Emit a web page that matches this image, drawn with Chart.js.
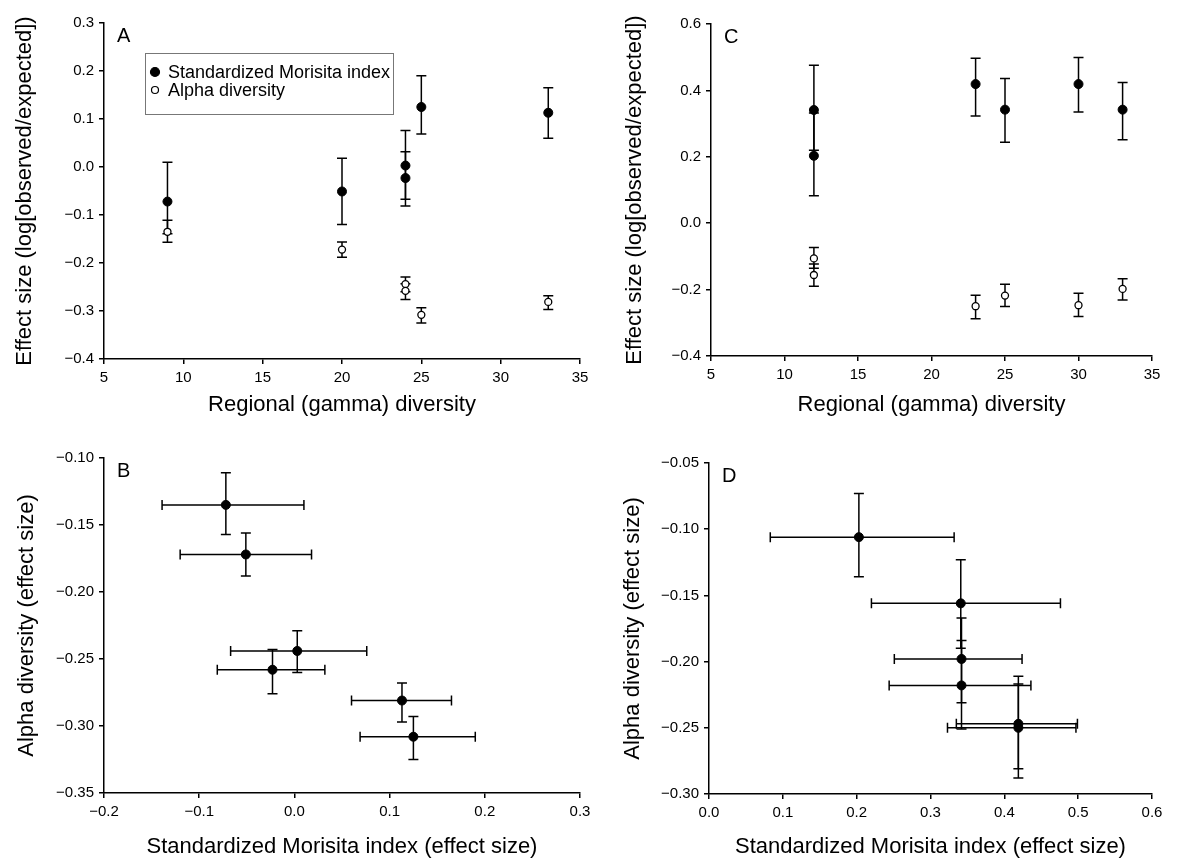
<!DOCTYPE html>
<html>
<head>
<meta charset="utf-8">
<script src="https://cdn.jsdelivr.net/npm/chart.js@4.4.1/dist/chart.umd.min.js"></script>
<style>
  html, body { margin: 0; padding: 0; background: #fff; overflow: hidden; }
  canvas { position: absolute; }
</style>
</head>
<body>
<canvas id="chartA" width="597" height="420" style="left:0;top:0"></canvas>
<canvas id="chartC" width="597" height="420" style="left:597px;top:0"></canvas>
<canvas id="chartB" width="597" height="450" style="left:0;top:420px"></canvas>
<canvas id="chartD" width="597" height="450" style="left:597px;top:420px"></canvas>
<script>
// first data set (panels A and B)
const gammaA = [9, 20, 24, 24, 25, 33];
const morisitaA = [-0.072, -0.051, 0.003, -0.023, 0.125, 0.113];
const morisitaALo = [-0.139, -0.120, -0.067, -0.081, 0.069, 0.060];
const morisitaAHi = [0.010, 0.018, 0.076, 0.032, 0.190, 0.165];
const alphaA = [-0.135, -0.172, -0.244, -0.258, -0.308, -0.281];
const alphaALo = [-0.157, -0.188, -0.260, -0.276, -0.325, -0.297];
const alphaAHi = [-0.111, -0.156, -0.229, -0.243, -0.293, -0.268];

// second data set (panels C and D)
const gammaC = [12, 12, 23, 25, 30, 33];
const morisitaC = [0.203, 0.341, 0.419, 0.342, 0.419, 0.342];
const morisitaCLo = [0.083, 0.220, 0.323, 0.244, 0.335, 0.251];
const morisitaCHi = [0.332, 0.476, 0.497, 0.436, 0.499, 0.424];
const alphaC = [-0.106, -0.156, -0.250, -0.218, -0.247, -0.198];
const alphaCLo = [-0.136, -0.190, -0.288, -0.251, -0.281, -0.231];
const alphaCHi = [-0.073, -0.123, -0.217, -0.184, -0.211, -0.167];

const seriesLabels = ['Standardized Morisita index', 'Alpha diversity'];
const gammaTitle = 'Regional (gamma) diversity';
const effectTitle = 'Effect size (log[observed/expected])';
const morisitaTitle = 'Standardized Morisita index (effect size)';
const alphaTitle = 'Alpha diversity (effect size)';

Chart.defaults.font.family = '"Liberation Sans", Arial, Helvetica, sans-serif';
Chart.defaults.color = '#000';

const fmt = (v, d) => {
  const s = Math.abs(v).toFixed(d);
  return (v < -1e-9 ? '\u2212' : '') + s;
};

// draw error bars under the markers
const errorBars = {
  id: 'errorBars',
  beforeDatasetsDraw(chart) {
    const { ctx, scales: { x, y } } = chart;
    const cap = 5;
    ctx.save();
    ctx.strokeStyle = '#000';
    ctx.lineWidth = 1.5;
    chart.data.datasets.forEach(ds => {
      ds.data.forEach(p => {
        const px = x.getPixelForValue(p.x);
        const py = y.getPixelForValue(p.y);
        ctx.beginPath();
        if (p.yMin != null) {
          const y1 = y.getPixelForValue(p.yMin), y2 = y.getPixelForValue(p.yMax);
          ctx.moveTo(px, y1); ctx.lineTo(px, y2);
          ctx.moveTo(px - cap, y1); ctx.lineTo(px + cap, y1);
          ctx.moveTo(px - cap, y2); ctx.lineTo(px + cap, y2);
        }
        if (p.xMin != null) {
          const x1 = x.getPixelForValue(p.xMin), x2 = x.getPixelForValue(p.xMax);
          ctx.moveTo(x1, py); ctx.lineTo(x2, py);
          ctx.moveTo(x1, py - cap); ctx.lineTo(x1, py + cap);
          ctx.moveTo(x2, py - cap); ctx.lineTo(x2, py + cap);
        }
        ctx.stroke();
      });
    });
    ctx.restore();
  }
};

// panel letter + optional boxed legend inside the plot
const panelExtras = {
  id: 'panelExtras',
  afterDraw(chart, args, opts) {
    const { ctx, chartArea } = chart;
    ctx.save();
    ctx.fillStyle = '#000';
    ctx.font = '20px "Liberation Sans", Arial, sans-serif';
    ctx.textBaseline = 'middle';
    ctx.fillText(opts.letter, chartArea.left + 13, chartArea.top + 13);
    if (opts.legend) {
      const bx = chartArea.left + 41, by = chartArea.top + 30, bw = 248, bh = 61;
      ctx.strokeStyle = '#777';
      ctx.lineWidth = 1;
      ctx.strokeRect(bx + 0.5, by + 0.5, bw, bh);
      ctx.font = '18px "Liberation Sans", Arial, sans-serif';
      chart.data.datasets.forEach((ds, i) => {
        const cy = by + 19 + i * 18;
        ctx.beginPath();
        ctx.arc(bx + 10, cy, i === 0 ? 4.5 : 3.5, 0, Math.PI * 2);
        ctx.fillStyle = ds.pointBackgroundColor;
        ctx.fill();
        ctx.strokeStyle = '#000';
        ctx.lineWidth = 1.2;
        ctx.stroke();
        ctx.fillStyle = '#000';
        ctx.fillText(ds.label, bx + 23, cy + 1);
      });
    }
    ctx.restore();
  }
};

function axis(min, max, step, dec, title, titlePad, size) {
  return {
    type: 'linear',
    min, max,
    ticks: { stepSize: step, autoSkip: false, padding: 5, font: { size: 15 }, color: '#000',
      callback: v => fmt(v, dec) },
    grid: { drawOnChartArea: false, drawTicks: true, tickLength: 5, color: '#000', lineWidth: 1.5 },
    border: { color: '#000', width: 1.5 },
    title: { display: true, text: title, color: '#000', font: { size: 22 }, padding: titlePad },
    afterFit: s => { if (s.isHorizontal()) s.height = size; else s.width = size; }
  };
}

const filled = (data, label) => ({
  label, data,
  pointRadius: 4.5, pointHoverRadius: 4.5,
  pointBackgroundColor: '#000', pointBorderColor: '#000', pointBorderWidth: 1,
  showLine: false
});
const hollow = (data, label) => ({
  label, data,
  pointRadius: 3.5, pointHoverRadius: 3.5,
  pointBackgroundColor: '#fff', pointBorderColor: '#000', pointBorderWidth: 1.3,
  showLine: false
});

function makeChart(id, datasets, xAxis, yAxis, padding, extras) {
  return new Chart(document.getElementById(id), {
    type: 'scatter',
    data: { datasets },
    options: {
      responsive: false,
      animation: false,
      layout: { padding },
      scales: { x: xAxis, y: yAxis },
      plugins: { legend: { display: false }, tooltip: { enabled: false }, panelExtras: extras }
    },
    plugins: [errorBars, panelExtras]
  });
}

// panel A
makeChart('chartA', [
  filled(gammaA.map((g, i) => ({ x: g, y: morisitaA[i], yMin: morisitaALo[i], yMax: morisitaAHi[i] })), seriesLabels[0]),
  hollow(gammaA.map((g, i) => ({ x: g, y: alphaA[i], yMin: alphaALo[i], yMax: alphaAHi[i] })), seriesLabels[1])
],
  axis(5, 35, 5, 0, gammaTitle, { top: 0, bottom: 2 }, 61),
  axis(-0.4, 0.3, 0.1, 1, effectTitle, { top: 12, bottom: 0 }, 104),
  { top: 23, right: 17, left: 0, bottom: 0 },
  { letter: 'A', legend: true });

// panel C
makeChart('chartC', [
  filled(gammaC.map((g, i) => ({ x: g, y: morisitaC[i], yMin: morisitaCLo[i], yMax: morisitaCHi[i] })), seriesLabels[0]),
  hollow(gammaC.map((g, i) => ({ x: g, y: alphaC[i], yMin: alphaCLo[i], yMax: alphaCHi[i] })), seriesLabels[1])
],
  axis(5, 35, 5, 0, gammaTitle, { top: 0, bottom: 2 }, 64),
  axis(-0.4, 0.6, 0.2, 1, effectTitle, { top: 25, bottom: 0 }, 114),
  { top: 24, right: 42, left: 0, bottom: 0 },
  { letter: 'C', legend: false });

// panel B
makeChart('chartB', [
  filled(morisitaA.map((m, i) => ({ x: m, y: alphaA[i], xMin: morisitaALo[i], xMax: morisitaAHi[i], yMin: alphaALo[i], yMax: alphaAHi[i] })), seriesLabels[0])
],
  axis(-0.2, 0.3, 0.1, 1, morisitaTitle, { top: 0, bottom: 10 }, 77),
  axis(-0.35, -0.10, 0.05, 2, alphaTitle, { top: 14, bottom: 0 }, 104),
  { top: 38, right: 17, left: 0, bottom: 0 },
  { letter: 'B', legend: false });

// panel D
makeChart('chartD', [
  filled(morisitaC.map((m, i) => ({ x: m, y: alphaC[i], xMin: morisitaCLo[i], xMax: morisitaCHi[i], yMin: alphaCLo[i], yMax: alphaCHi[i] })), seriesLabels[0])
],
  axis(0, 0.6, 0.1, 1, morisitaTitle, { top: 0, bottom: 10 }, 76),
  axis(-0.30, -0.05, 0.05, 2, alphaTitle, { top: 23, bottom: 0 }, 112),
  { top: 43, right: 42, left: 0, bottom: 0 },
  { letter: 'D', legend: false });
</script>
</body>
</html>
